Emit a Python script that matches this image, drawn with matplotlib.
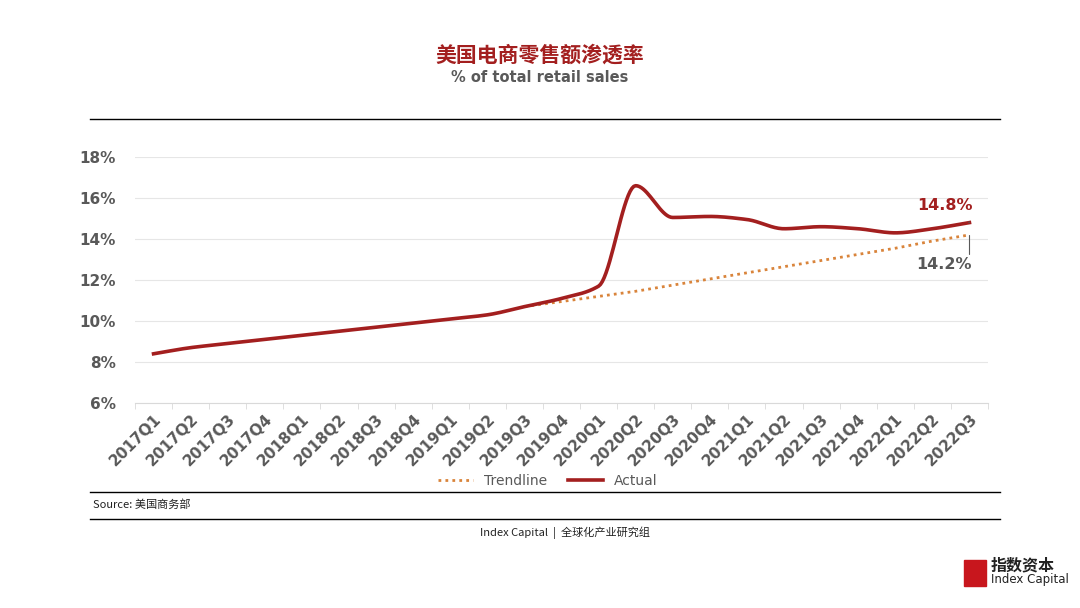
import numpy as np
import matplotlib
matplotlib.use("Agg")
import matplotlib.pyplot as plt
from matplotlib.patches import Rectangle

quarters = ["2017Q1","2017Q2","2017Q3","2017Q4","2018Q1","2018Q2","2018Q3","2018Q4",
            "2019Q1","2019Q2","2019Q3","2019Q4","2020Q1","2020Q2","2020Q3","2020Q4",
            "2021Q1","2021Q2","2021Q3","2021Q4","2022Q1","2022Q2","2022Q3"]
actual = [8.4,8.7,8.9,9.1,9.3,9.5,9.7,9.9,10.1,10.3,10.7,11.1,11.7,16.6,15.05,15.1,
          14.95,14.5,14.6,14.5,14.3,14.5,14.8]
trend_start = 10
trend = [10.7,10.95,11.2,11.45,11.75,12.05,12.35,12.65,12.95,13.25,13.55,13.9,14.2]
yticks = [6,8,10,12,14,16,18]

def smooth(x, y, n=20):
    # monotone cubic (Fritsch-Carlson) curve through the data points
    x = np.asarray(x, float); y = np.asarray(y, float)
    h = np.diff(x); d = np.diff(y)/h
    m = np.zeros_like(y)
    m[0] = d[0]; m[-1] = d[-1]
    for i in range(1, len(y)-1):
        if d[i-1]*d[i] <= 0:
            m[i] = 0
        else:
            w1 = 2*h[i]+h[i-1]; w2 = h[i]+2*h[i-1]
            m[i] = (w1+w2)/(w1/d[i-1]+w2/d[i])
    xs, ys = [], []
    for i in range(len(x)-1):
        t = np.linspace(0,1,n,endpoint=False)
        h00 = 2*t**3-3*t**2+1; h10 = t**3-2*t**2+t; h01 = -2*t**3+3*t**2; h11 = t**3-t**2
        xs.append(x[i]+t*h[i])
        ys.append(h00*y[i]+h10*h[i]*m[i]+h01*y[i+1]+h11*h[i]*m[i+1])
    xs.append([x[-1]]); ys.append([y[-1]])
    return np.concatenate(xs), np.concatenate(ys)

red = "#a31f1f"; grey = "#595959"
narrow = "Liberation Sans Narrow"
fig = plt.figure(figsize=(10.8,6.08), dpi=100)
fig.patch.set_facecolor("white")
ax = fig.add_axes([135/1080, (608-403)/608, (988-135)/1080, (403-157)/608])
x = np.arange(len(quarters))
tx = x[trend_start:]
ax.plot(tx, trend, ls=(0,(1,1.5)), color="#d9843b", lw=2, label="Trendline", zorder=2)
sx, sy = smooth(x, actual)
ax.plot(sx, sy, color=red, lw=2.6, label="Actual", zorder=3)
ax.set_xlim(-0.5, len(quarters)-0.5)
ax.set_ylim(6,18)
ax.set_yticks(yticks)
ax.set_yticklabels([f"{v}%" for v in yticks], color=grey, fontsize=11, fontweight="bold", family=narrow)
ax.set_xticks(x)
ax.set_xticklabels(quarters, rotation=45, ha="right", rotation_mode="anchor",
                   color=grey, fontsize=11, fontweight="bold", family=narrow)
ax.set_xticks(np.arange(-0.5, len(quarters)), minor=True)
ax.tick_params(axis="x", which="major", length=0, pad=6)
ax.tick_params(axis="x", which="minor", length=4, color="#d9d9d9")
ax.tick_params(axis="y", length=0, pad=14)
ax.grid(axis="y", color="#e6e6e6", lw=0.8)
for s in ["top","right","left"]:
    ax.spines[s].set_visible(False)
ax.spines["bottom"].set_color("#d9d9d9")
ax.set_axisbelow(True)
ax.annotate(f"{actual[-1]}%", xy=(x[-1], actual[-1]), xytext=(x[-1]-0.65, 15.65),
            ha="center", va="center", color=red, fontsize=11.5, fontweight="bold", family=narrow,
            arrowprops=dict(arrowstyle="-", color=grey, lw=0.8, shrinkA=8, shrinkB=0))
ax.annotate(f"{trend[-1]}%", xy=(x[-1], trend[-1]), xytext=(x[-1]-0.7, 12.75),
            ha="center", va="center", color=grey, fontsize=11.5, fontweight="bold", family=narrow,
            arrowprops=dict(arrowstyle="-", color=grey, lw=0.8, shrinkA=0, shrinkB=0,
                            connectionstyle="angle,angleA=0,angleB=90,rad=0"))
fig.legend(loc="center", bbox_to_anchor=(548/1080, 1-481/608), ncol=2, frameon=False,
           fontsize=10, labelcolor=grey, handlelength=2.5, columnspacing=1.5)

fig.text(0.5, 1-55/608, "美国电商零售额渗透率", ha="center", va="center", color=red,
         fontsize=15, fontweight="bold", family="Noto Sans CJK SC")
fig.text(0.5, 1-77/608, "% of total retail sales", ha="center", va="center", color=grey,
         fontsize=10.5, fontweight="bold")
for yy in [119, 492, 519]:
    fig.add_artist(plt.Line2D([90/1080, 1000/1080], [1-yy/608]*2, color="black", lw=1.0))
fig.text(93/1080, 1-505/608, "Source: 美国商务部", ha="left", va="center", fontsize=8,
         family="Noto Sans CJK SC", color="#222222")
fig.text(565/1080, 1-533/608, "Index Capital  |  全球化产业研究组", ha="center", va="center",
         fontsize=8, family="Noto Sans CJK SC", color="#222222")
fig.add_artist(Rectangle((964/1080, 1-586/608), 22/1080, 26/608, color="#c8161d",
                         transform=fig.transFigure))
fig.text(991/1080, 1-565/608, "指数资本", ha="left", va="center", fontsize=11.5,
         fontweight="bold", family="Noto Sans CJK SC", color="#222222")
fig.text(991/1080, 1-580/608, "Index Capital", ha="left", va="center", fontsize=8.5,
         color="#222222")
fig.savefig("out.png", dpi=100)
